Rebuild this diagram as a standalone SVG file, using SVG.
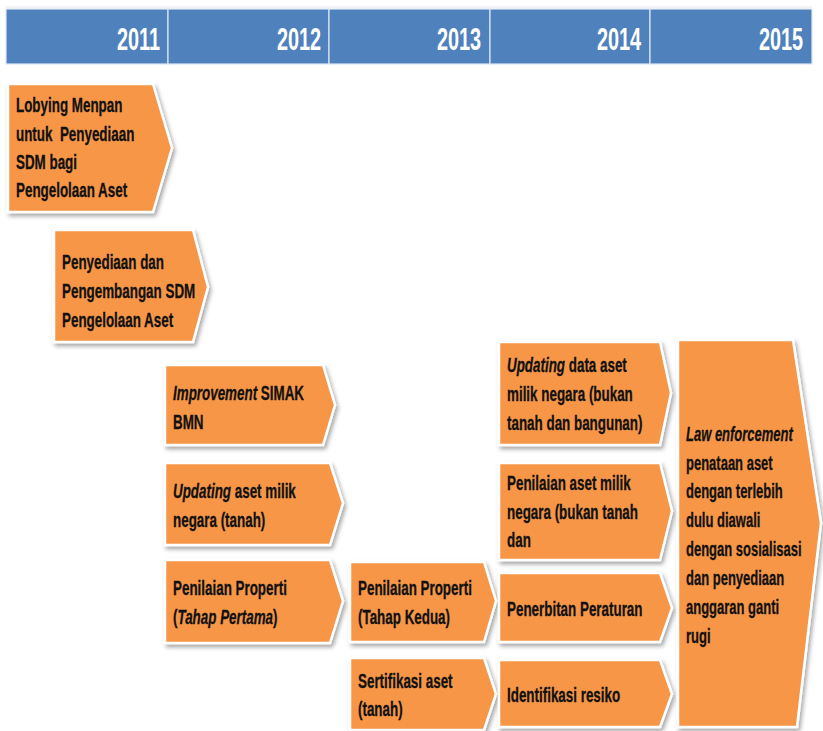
<svg xmlns="http://www.w3.org/2000/svg" width="823" height="731" viewBox="0 0 823 731">
<defs>
<style>
.box{fill:#F79646;stroke:#ffffff;stroke-width:2.5;filter:url(#sh)}
.cell{fill:#4F81BD;stroke:#DCE6F2;stroke-width:1.2}
.yr{font-family:"Liberation Sans",Arial,sans-serif;font-weight:bold;font-size:31px;fill:#ffffff;text-anchor:end}
.t{font-family:"Liberation Sans",Arial,sans-serif;font-weight:bold;font-size:20px;fill:#111111;stroke:#111111;stroke-width:0.3}
.i{font-style:italic}
</style>
<filter id="sh" x="-10%" y="-10%" width="130%" height="130%">
<feDropShadow dx="2" dy="3" stdDeviation="2" flood-color="#000" flood-opacity="0.35"/>
</filter>
</defs>
<rect width="823" height="731" fill="#ffffff"/>
<g id="header">
<line x1="6" y1="7" x2="812" y2="7" stroke="#E3E8EE" stroke-width="1"/>
<rect class="cell" x="6" y="9" width="162" height="55"/>
<rect class="cell" x="168" y="9" width="161" height="55"/>
<rect class="cell" x="329" y="9" width="161" height="55"/>
<rect class="cell" x="490" y="9" width="160" height="55"/>
<rect class="cell" x="650" y="9" width="162" height="55"/>
<text class="yr" transform="translate(160,50) scale(0.64,1)">2011</text>
<text class="yr" transform="translate(321,50) scale(0.64,1)">2012</text>
<text class="yr" transform="translate(481,50) scale(0.64,1)">2013</text>
<text class="yr" transform="translate(641,50) scale(0.64,1)">2014</text>
<text class="yr" transform="translate(803,50) scale(0.64,1)">2015</text>
</g>
<g id="connectors"></g>
<g id="node-lobying">
<polygon class="box" points="8,84 153,84 172,148 153,212 8,212"/>
<text class="t" transform="translate(16,112) scale(0.67,1)" xml:space="preserve"><tspan x="0" y="0">Lobying Menpan</tspan><tspan x="0" y="29">untuk  Penyediaan</tspan><tspan x="0" y="57">SDM bagi</tspan><tspan x="0" y="85">Pengelolaan Aset</tspan></text>
</g>
<g id="node-penyediaan">
<polygon class="box" points="54,230 193,230 208,287 193,342 54,342"/>
<text class="t" transform="translate(62,269) scale(0.67,1)"><tspan x="0" y="0">Penyediaan dan</tspan><tspan x="0" y="29">Pengembangan SDM</tspan><tspan x="0" y="58">Pengelolaan Aset</tspan></text>
</g>
<g id="node-improvement">
<polygon class="box" points="165,365 323,365 335,405 323,445 165,445"/>
<text class="t" transform="translate(173,400) scale(0.67,1)"><tspan x="0" y="0"><tspan class="i">Improvement</tspan> SIMAK</tspan><tspan x="0" y="29">BMN</tspan></text>
</g>
<g id="node-updating-tanah">
<polygon class="box" points="165,463 330,463 343,503 330,545 165,545"/>
<text class="t" transform="translate(173,498) scale(0.67,1)"><tspan x="0" y="0"><tspan class="i">Updating</tspan> aset milik</tspan><tspan x="0" y="29">negara (tanah)</tspan></text>
</g>
<g id="node-penilaian-1">
<polygon class="box" points="165,560 330,560 343,601 330,643 165,643"/>
<text class="t" transform="translate(173,595) scale(0.67,1)"><tspan x="0" y="0">Penilaian Properti</tspan><tspan x="0" y="29">(<tspan class="i">Tahap Pertama</tspan>)</tspan></text>
</g>
<g id="node-penilaian-2">
<polygon class="box" points="350,562 484,562 496,601 484,642 350,642"/>
<text class="t" transform="translate(358,595) scale(0.67,1)"><tspan x="0" y="0">Penilaian Properti</tspan><tspan x="0" y="29">(Tahap Kedua)</tspan></text>
</g>
<g id="node-sertifikasi">
<polygon class="box" points="350,658 484,658 496,694 484,730 350,730"/>
<text class="t" transform="translate(358,688) scale(0.67,1)"><tspan x="0" y="0">Sertifikasi aset</tspan><tspan x="0" y="28">(tanah)</tspan></text>
</g>
<g id="node-updating-data">
<polygon class="box" points="499,342 660,342 671,393 660,445 499,445"/>
<text class="t" transform="translate(507,372) scale(0.67,1)"><tspan x="0" y="0"><tspan class="i">Updating</tspan> data aset</tspan><tspan x="0" y="29">milik negara (bukan</tspan><tspan x="0" y="58">tanah dan bangunan)</tspan></text>
</g>
<g id="node-penilaian-aset">
<polygon class="box" points="499,463 660,463 672,511 660,560 499,560"/>
<text class="t" transform="translate(507,490) scale(0.67,1)"><tspan x="0" y="0">Penilaian aset milik</tspan><tspan x="0" y="29">negara (bukan tanah</tspan><tspan x="0" y="57">dan</tspan></text>
</g>
<g id="node-penerbitan">
<polygon class="box" points="499,573 660,573 672,608 660,642 499,642"/>
<text class="t" transform="translate(507,616) scale(0.67,1)">Penerbitan Peraturan</text>
</g>
<g id="node-identifikasi">
<polygon class="box" points="499,660 660,660 672,694 660,727 499,727"/>
<text class="t" transform="translate(507,702) scale(0.67,1)">Identifikasi resiko</text>
</g>
<g id="node-law">
<polygon class="box" points="678,340 793,340 821,523 797,727 678,727"/>
<text class="t" transform="translate(686,441) scale(0.65,1)"><tspan x="0" y="0" class="i">Law enforcement</tspan><tspan x="0" y="29">penataan aset</tspan><tspan x="0" y="57">dengan terlebih</tspan><tspan x="0" y="86">dulu diawali</tspan><tspan x="0" y="115">dengan sosialisasi</tspan><tspan x="0" y="144">dan penyediaan</tspan><tspan x="0" y="173">anggaran ganti</tspan><tspan x="0" y="202">rugi</tspan></text>
</g>
</svg>
